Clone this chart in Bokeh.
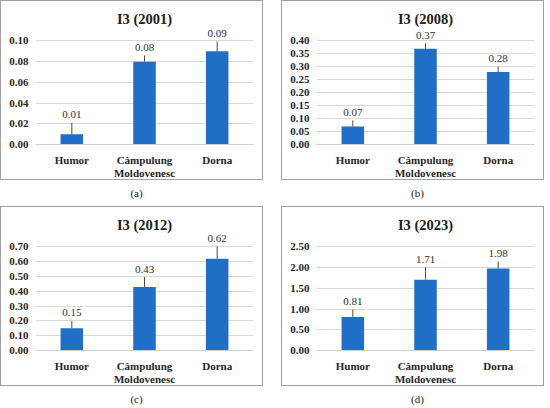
from bokeh.plotting import figure
from bokeh.layouts import column, row
from bokeh.models import (Div, FixedTicker, NumeralTickFormatter, Range1d,
                          FactorRange, CategoricalAxis)
from bokeh.embed import file_html
from bokeh.resources import INLINE
from bokeh.core.properties import value

# category labels: first line (used as factors) and second line
categories = ["Humor", "Câmpulung", "Dorna"]
label_line2 = [" ", "Moldovenesc", "  "]

titles = ["I3 (2001)", "I3 (2008)", "I3 (2012)", "I3 (2023)"]
captions = ["(a)", "(b)", "(c)", "(d)"]

values_2001 = [0.01, 0.08, 0.09]
errors_2001 = [0.011, 0.006, 0.0095]
ticks_2001 = [0.00, 0.02, 0.04, 0.06, 0.08, 0.10]

values_2008 = [0.07, 0.37, 0.28]
errors_2008 = [0.023, 0.021, 0.02]
ticks_2008 = [0.00, 0.05, 0.10, 0.15, 0.20, 0.25, 0.30, 0.35, 0.40]

values_2012 = [0.15, 0.43, 0.62]
errors_2012 = [0.05, 0.066, 0.085]
ticks_2012 = [0.00, 0.10, 0.20, 0.30, 0.40, 0.50, 0.60, 0.70]

values_2023 = [0.81, 1.71, 1.98]
errors_2023 = [0.18, 0.30, 0.17]
ticks_2023 = [0.00, 0.50, 1.00, 1.50, 2.00, 2.50]

panels = [
    (titles[0], values_2001, errors_2001, ticks_2001, captions[0]),
    (titles[1], values_2008, errors_2008, ticks_2008, captions[1]),
    (titles[2], values_2012, errors_2012, ticks_2012, captions[2]),
    (titles[3], values_2023, errors_2023, ticks_2023, captions[3]),
]

FONT = "Liberation Serif"
BAR = "#1f6fc6"
W, H = 263, 180


def style_axis(ax):
    ax.major_label_text_font = FONT
    ax.major_label_text_font_size = "11px"
    ax.major_label_text_font_style = "bold"
    ax.major_label_text_color = "#262626"
    ax.major_tick_line_color = None
    ax.minor_tick_line_color = None
    ax.major_tick_out = 0
    ax.major_tick_in = 0


def make_panel(title, vals, errs, ticks, cap):
    top = ticks[-1] * 1.12
    p = figure(x_range=FactorRange(*categories), y_range=Range1d(0, top),
               width=W, height=H, output_backend="svg", toolbar_location=None,
               title=title, min_border_left=34, min_border_right=11,
               min_border_top=27, min_border_bottom=4)
    p.extra_x_ranges = {"line2": FactorRange(*label_line2)}
    p.styles = {"border": "1px solid #a0a0a0", "box-sizing": "border-box"}
    p.title.align = "center"
    p.title.text_font = FONT
    p.title.text_font_size = "14.5px"
    p.title.text_font_style = "bold"
    p.title.text_color = "#202020"
    p.title.standoff = 3
    p.outline_line_color = None
    p.background_fill_color = "white"
    p.border_fill_color = "white"

    p.vbar(x=categories, top=vals, width=0.31, color=BAR, line_color=None)
    ups = [v + e for v, e in zip(vals, errs)]
    p.segment(x0=categories, y0=vals, x1=categories, y1=ups,
              line_color="#4a4a4a", line_width=1)
    p.text(x=categories, y=ups, text=[f"{v:.2f}" for v in vals],
           text_align="center", text_baseline="middle", y_offset=-8,
           text_font=value(FONT), text_font_size="11px", text_color="#303030")

    p.yaxis.ticker = FixedTicker(ticks=ticks)
    p.yaxis.formatter = NumeralTickFormatter(format="0.00")
    style_axis(p.yaxis[0])
    style_axis(p.xaxis[0])
    p.yaxis.axis_line_color = None
    p.yaxis.major_label_standoff = 7
    p.xaxis.axis_line_color = "#d0d0d0"
    p.xaxis.major_label_standoff = 9

    ax2 = CategoricalAxis(x_range_name="line2")
    style_axis(ax2)
    ax2.axis_line_color = None
    ax2.major_label_standoff = -2
    p.add_layout(ax2, "below")

    p.xgrid.grid_line_color = None
    p.ygrid.grid_line_color = "#d9d9d9"

    d = Div(text=cap, width=W, height=16,
            styles={"text-align": "center", "font-family": FONT,
                    "font-size": "11px", "color": "#202020",
                    "width": f"{W}px", "line-height": "16px"})
    return column(p, d, spacing=0)


cells = [make_panel(*pp) for pp in panels]
layout = column(row(cells[0], cells[1], spacing=8),
                row(cells[2], cells[3], spacing=8), spacing=0)

open("out.html", "w").write(file_html(layout, INLINE))
